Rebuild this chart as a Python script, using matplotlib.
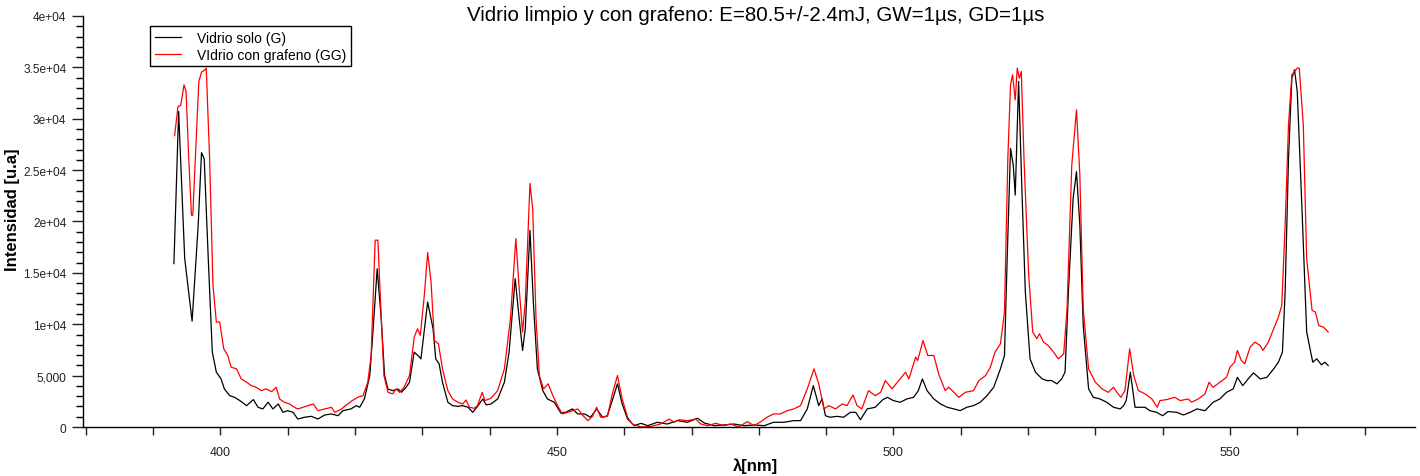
import matplotlib as mpl
mpl.use('Agg')
import matplotlib.pyplot as plt
from matplotlib.ticker import MultipleLocator

plt.rcParams['font.family'] = ['Liberation Sans', 'DejaVu Sans']

# Vidrio solo (G)
lam_g = [393.1, 393.8, 394.7, 395.8, 396.7, 397.2, 397.6, 398.2, 398.8, 399.4,
         400.1, 400.6, 401.4, 402.1, 402.9, 403.9, 404.9, 405.6, 406.3, 407.1,
         407.8, 408.6, 409.3, 410.0, 410.8, 411.5, 412.5, 413.5, 414.5, 415.5,
         416.5, 417.5, 418.2, 419.4, 420.2, 420.7, 421.4, 422.2, 422.7, 423.3,
         423.9, 424.4, 424.9, 425.6, 426.4, 426.9, 427.6, 428.1, 428.8, 429.6,
         429.8, 430.8, 431.6, 432.0, 432.5, 433.0, 433.8, 434.5, 435.3, 436.0,
         436.8, 437.5, 438.2, 439.0, 439.5, 440.2, 441.2, 442.2, 442.9, 443.8,
         444.4, 444.9, 445.3, 446.0, 446.5, 447.1, 447.9, 448.6, 449.6, 450.6,
         451.3, 452.3, 453.1, 454.1, 455.0, 455.9, 456.8, 457.5, 458.3, 459.0,
         459.7, 460.5, 461.5, 462.5, 463.5, 464.9, 466.4, 467.9, 469.4, 470.9,
         471.9, 473.4, 474.8, 476.3, 477.8, 479.3, 480.8, 482.2, 483.7, 485.2,
         486.2, 487.2, 488.1, 488.9, 489.4, 489.9, 490.6, 491.6, 492.6, 493.6,
         494.4, 495.1, 496.1, 497.3, 498.4, 499.1, 500.0, 501.0, 502.0, 503.0,
         503.7, 504.3, 505.0, 506.0, 507.0, 508.0, 509.0, 509.9, 510.9, 511.9,
         512.9, 513.9, 514.9, 515.9, 516.5, 516.9, 517.4, 517.8, 518.1, 518.6,
         519.1, 519.6, 520.3, 521.1, 522.1, 522.8, 523.5, 524.3, 525.0, 525.5,
         526.0, 526.7, 527.2, 527.7, 528.2, 529.0, 529.7, 530.7, 531.7, 532.7,
         533.7, 534.2, 534.6, 535.2, 535.9, 536.6, 537.4, 538.1, 539.1, 540.0,
         540.8, 542.1, 543.1, 544.1, 545.1, 546.3, 547.5, 548.5, 549.5, 550.5,
         551.1, 551.9, 552.7, 553.5, 554.5, 555.5, 556.5, 557.2, 557.8, 558.2,
         558.7, 559.2, 559.6, 560.0, 560.7, 561.4, 562.3, 562.9, 563.6, 564.1,
         564.6]
int_g = [15900, 30700, 16400, 10300, 19600, 26700, 26100, 16400, 7300, 5340,
         4680, 3700, 3050, 2890, 2570, 2080, 2670, 1920, 1760, 2410,
         1760, 2240, 1430, 1590, 1430, 780, 950, 1040, 780, 1170,
         1270, 1100, 1590, 1760, 2080, 1920, 2730, 5010, 9560, 15400,
         10500, 5000, 3700, 3540, 3700, 3380, 3870, 4360, 7290, 6800,
         6630, 12170, 9560, 6630, 6150, 4360, 2410, 2080, 2010, 2080,
         1920, 1430, 2010, 2730, 2150, 2240, 2730, 4360, 7290, 14440,
         10540, 7450, 9560, 19150, 12170, 5660, 3540, 2730, 2410, 1350,
         1430, 1760, 1270, 1270, 950, 1760, 950, 1100, 2730, 4200,
         2240, 780, 130, 360, 130, 460, 290, 620, 460, 850,
         390, 130, 200, 290, 130, 200, 130, 460, 460, 620,
         620, 1760, 4030, 2080, 2730, 1100, 950, 1040, 950, 1430,
         1430, 710, 1760, 1920, 2650, 2890, 2570, 2410, 2730, 2890,
         3540, 4680, 3540, 2730, 2240, 1920, 1760, 1590, 1920, 2080,
         2410, 3050, 3870, 5660, 6960, 16390, 27120, 25500, 22570, 33630,
         22900, 13140, 6630, 5340, 4680, 4520, 4520, 4200, 4680, 5340,
         13140, 22240, 24850, 19640, 9880, 3710, 2890, 2730, 2410, 1920,
         1760, 2080, 2600, 5340, 1920, 1920, 1920, 1590, 1430, 1100,
         1500, 1430, 1170, 1430, 1760, 1590, 2410, 2730, 3380, 3710,
         4840, 4030, 4680, 5270, 4680, 4840, 5660, 6310, 7290, 13140,
         26150, 33950, 34760, 32650, 21270, 9240, 6310, 6630, 6050, 6310,
         5980]

# Vidrio con grafeno (GG)
lam_gg = [393.2, 393.7, 394.1, 394.6, 394.9, 395.3, 395.7, 395.9, 396.4, 396.8,
          397.2, 397.7, 397.9, 398.4, 398.9, 399.4, 399.9, 400.5, 401.1, 401.6,
          402.4, 403.1, 403.9, 404.6, 405.3, 406.1, 406.8, 407.6, 408.3, 408.8,
          409.5, 410.3, 411.0, 411.5, 412.3, 413.0, 413.8, 414.5, 415.5, 416.5,
          417.0, 418.0, 418.9, 419.6, 420.4, 421.2, 421.9, 422.4, 423.0, 423.4,
          423.8, 424.3, 424.9, 425.6, 426.1, 426.6, 427.3, 428.1, 428.8, 429.3,
          429.7, 430.3, 430.8, 431.3, 431.8, 432.4, 433.0, 433.8, 434.5, 435.3,
          436.0, 436.5, 437.0, 437.7, 438.2, 438.9, 439.3, 440.2, 441.2, 442.2,
          443.1, 443.9, 444.4, 444.9, 445.3, 446.0, 446.4, 446.9, 447.4, 448.0,
          448.7, 449.4, 450.1, 450.8, 451.6, 453.1, 453.8, 454.6, 455.3, 455.9,
          456.5, 457.5, 458.3, 459.0, 459.7, 460.5, 461.2, 462.5, 463.9, 465.4,
          466.7, 467.4, 468.1, 469.4, 470.6, 471.4, 472.4, 473.6, 474.8, 475.8,
          477.0, 478.3, 479.3, 480.3, 481.2, 482.2, 483.2, 484.2, 485.2, 486.2,
          487.2, 488.2, 488.9, 489.7, 490.4, 491.4, 492.4, 493.1, 494.0, 494.6,
          495.3, 496.3, 497.3, 498.1, 498.8, 499.8, 500.8, 501.8, 502.3, 503.3,
          503.6, 504.4, 505.1, 506.0, 506.8, 507.7, 508.2, 509.0, 509.7, 510.7,
          511.9, 512.7, 513.7, 514.4, 515.1, 515.9, 516.5, 517.0, 517.4, 517.7,
          518.1, 518.4, 518.7, 519.0, 519.4, 520.1, 520.7, 521.3, 521.7, 522.3,
          523.0, 523.8, 524.5, 525.3, 525.8, 526.5, 527.2, 527.7, 528.2, 529.0,
          530.0, 531.0, 531.9, 532.7, 533.2, 533.8, 534.4, 535.1, 535.7, 536.4,
          537.4, 538.4, 539.2, 539.6, 540.6, 541.8, 542.6, 543.8, 544.3, 545.3,
          546.3, 546.9, 547.5, 548.5, 549.5, 550.0, 550.7, 551.1, 551.7, 552.2,
          553.0, 553.7, 554.5, 554.9, 555.7, 556.5, 557.2, 557.7, 558.2, 558.7,
          559.2, 560.0, 560.3, 560.9, 561.4, 562.2, 562.7, 563.2, 563.9, 564.6]
int_gg = [28360, 31190, 31290, 33300, 32650, 26150, 20610, 20610, 27780, 33630,
          34540, 34760, 34930, 26150, 13790, 10210, 10210, 7610, 6960, 5820,
          5660, 4680, 4360, 4030, 3870, 3540, 3710, 3440, 3870, 2730,
          2410, 2240, 1920, 1760, 1920, 2080, 2240, 1590, 1760, 1920,
          1430, 1760, 2240, 2570, 2890, 3050, 4360, 6960, 18180, 18180,
          12170, 5010, 3380, 3220, 3710, 3380, 3870, 5010, 8750, 9560,
          8910, 12810, 16980, 14120, 8420, 8100, 5660, 3540, 2730, 2410,
          2240, 2630, 1920, 1820, 2080, 3380, 2570, 2800, 3540, 5660,
          10540, 18340, 13460, 9240, 12170, 23710, 21270, 10540, 5010, 3710,
          4200, 3050, 2080, 1270, 1430, 1760, 1170, 620, 1040, 1920,
          950, 1040, 3380, 5010, 2730, 950, 290, 0, 50, 290,
          780, 460, 710, 620, 780, 290, 130, 360, 130, 290,
          0, 520, 130, 520, 950, 1270, 1270, 1590, 1760, 2080,
          3710, 5660, 4200, 1760, 2080, 1760, 2240, 2080, 3120, 2080,
          1760, 3540, 3050, 3380, 4520, 3710, 4520, 5340, 4680, 6800,
          6470, 8420, 6960, 6960, 5010, 3540, 3870, 3380, 2890, 3380,
          3540, 4520, 5010, 5820, 7290, 8100, 11190, 26150, 33300, 34270,
          31830, 34930, 33950, 34600, 26150, 14760, 9240, 8590, 9070, 8260,
          7930, 7290, 6630, 7120, 11510, 25500, 30860, 24520, 11510, 5660,
          4360, 3710, 3380, 3870, 3380, 2890, 3540, 7610, 5010, 3540,
          3220, 2730, 1920, 2570, 2670, 2890, 2570, 2730, 2410, 2730,
          3220, 4360, 3870, 4360, 4840, 5820, 6310, 7450, 6470, 6150,
          7770, 8260, 7930, 7450, 8260, 9560, 10700, 11830, 19640, 29390,
          34270, 34930, 34930, 29390, 16390, 11350, 11190, 9880, 9720, 9240]

xticks = list(range(380, 580, 10))
xtick_labels = [str(t) if t % 50 == 0 else '' for t in xticks]
yticks = [0, 5000, 10000, 15000, 20000, 25000, 30000, 35000, 40000]
ytick_labels = ['0', '5,000', '1e+04', '1.5e+04', '2e+04', '2.5e+04',
                '3e+04', '3.5e+04', '4e+04']

fig = plt.figure(figsize=(14.2, 4.77), dpi=100)
ax = fig.add_axes([0.0585, 0.1027, 0.9380, 0.8617])

ax.plot(lam_g, int_g, color='#000000', lw=0.9, label='Vidrio solo (G)')
ax.plot(lam_gg, int_gg, color='#ff0000', lw=0.9, label='VIdrio con grafeno (GG)')

ax.set_xlim(379.6, 577.5)
ax.set_ylim(0, 40000)

for side in ('top', 'right'):
    ax.spines[side].set_visible(False)
ax.spines['left'].set_linewidth(1.0)
ax.spines['bottom'].set_linewidth(1.0)

ax.set_xticks(xticks, xtick_labels)
ax.set_yticks(yticks, ytick_labels)
ax.yaxis.set_minor_locator(MultipleLocator(1000))
ax.tick_params(axis='x', direction='out', length=6, width=1, labelsize=9,
               pad=8, colors='#222222')
ax.tick_params(axis='y', which='major', direction='out', length=8, width=1,
               labelsize=8.6, pad=4, colors='#222222')
ax.tick_params(axis='y', which='minor', direction='out', length=5, width=1)

ax.set_ylabel('Intensidad [u.a]', fontsize=12, fontweight='bold')
ax.yaxis.set_label_coords(-0.0475, 0.53)
ax.set_xlabel('λ[nm]', fontsize=12, fontweight='bold')
ax.xaxis.set_label_coords(0.5045, -0.074)

fig.text(0.532, 0.968, 'Vidrio limpio y con grafeno: E=80.5+/-2.4mJ, GW=1µs, GD=1µs',
         ha='center', va='center', fontsize=14.8)

leg = ax.legend(loc='upper left', bbox_to_anchor=(0.0503, 0.9757), borderaxespad=0,
                fontsize=10, handlelength=1.9, handletextpad=1.1, labelspacing=0.2,
                borderpad=0.35, fancybox=False, framealpha=1)
leg.get_frame().set_edgecolor('#000000')
leg.get_frame().set_linewidth(1.0)

fig.savefig('out.png', dpi=100)
